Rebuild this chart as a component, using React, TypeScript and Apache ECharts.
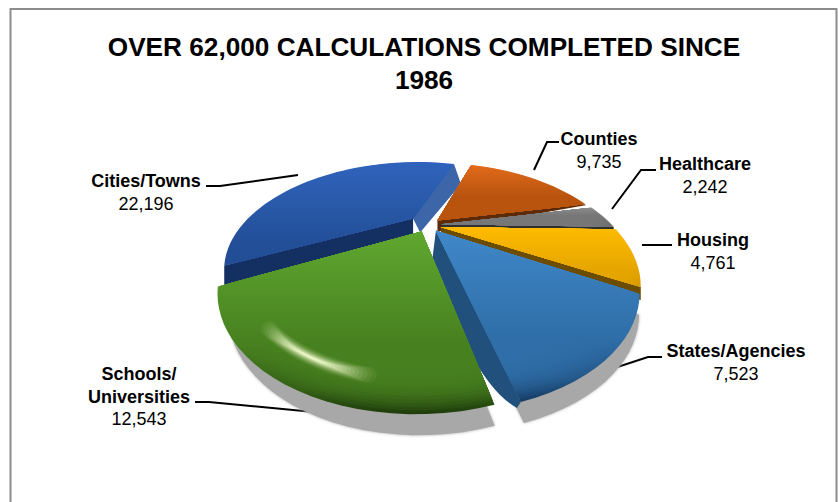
import React, { useEffect, useRef } from "react";
import * as echarts from "echarts";

// Calculations by client type, clockwise around the pie
const categories = ["Cities/Towns", "Counties", "Healthcare", "Housing", "States/Agencies", "Schools/\nUniversities"];
const calculations = [22196, 9735, 2242, 4761, 7523, 12543];
const chartTitle = "OVER 62,000 CALCULATIONS COMPLETED SINCE\n1986";

// Perspective of the pie plane
const CX = 427.5;
const CY = 225;
const RX = 171;
const KY = 88;
const DEPTH = 2.14;
const START_ANGLE = 207;
const BEVEL = 0.15;
const BEVEL_STEPS = 14;
const sliceOffsets = [0.115, 0.08, 0.08, 0.08, 0.08, 0.08];

const total = calculations.reduce((a, b) => a + b, 0);
const rad = (d: number) => (d * Math.PI) / 180;

function project(x: number, y: number): [number, number] {
  const s = DEPTH / (DEPTH + y);
  return [CX + x * RX * s, CY - y * KY * s];
}

function sliceAngles(index: number) {
  let a = START_ANGLE;
  for (let i = 0; i < index; i++) a -= (calculations[i] / total) * 360;
  return { a0: a, a1: a - (calculations[index] / total) * 360 };
}

function planePoint(index: number, angle: number, r: number) {
  const { a0, a1 } = sliceAngles(index);
  const mid = rad((a0 + a1) / 2);
  const e = sliceOffsets[index];
  return project(e * Math.cos(mid) + r * Math.cos(rad(angle)), e * Math.sin(mid) + r * Math.sin(rad(angle)));
}

type Warp = { pivot: number; fx: number; dx: number; dy: number };
const noWarp: Warp = { pivot: 0, fx: 1, dx: 0, dy: 0 };

function facePath(index: number, r: number, warp: Warp = noWarp) {
  const { a0, a1 } = sliceAngles(index);
  const move = (p: number[]) => `${warp.pivot + (p[0] - warp.pivot) * warp.fx + warp.dx} ${p[1] + warp.dy}`;
  const parts = [`M${move(planePoint(index, a0, 0))}`];
  const steps = Math.max(6, Math.ceil((a0 - a1) / 3));
  for (let i = 0; i <= steps; i++) {
    parts.push(`L${move(planePoint(index, a0 + ((a1 - a0) * i) / steps, r))}`);
  }
  return parts.join("") + "Z";
}

function hex(c: string) {
  return [1, 3, 5].map((i) => parseInt(c.slice(i, i + 2), 16));
}
function mix(a: string, b: string, t: number) {
  const x = hex(a);
  const y = hex(b);
  return `rgb(${x.map((v, i) => Math.round(v + (y[i] - v) * t)).join(",")})`;
}

type Wall = { edge: "start" | "end"; color: string; apex: number; mid: number; rim: number; dx: number };
type Look = { top: string; low: string; rim: string; y0: number; y1: number; walls: Wall[]; shadow?: Warp };

const looks: Look[] = [
  {
    top: "#2f63bb", low: "#234f98", rim: "#1d4585", y0: 165, y1: 290,
    walls: [
      { edge: "end", color: "#3d66a9", apex: 14, mid: 17, rim: 20, dx: 7 },
      { edge: "start", color: "#142f62", apex: 16, mid: 20, rim: 24, dx: 0 },
    ],
  },
  {
    top: "#e26a1a", low: "#b9540f", rim: "#a84a0c", y0: 165, y1: 215,
    walls: [{ edge: "end", color: "#5c2a06", apex: 11, mid: 6, rim: 1, dx: 0 }],
  },
  {
    top: "#a6a6a6", low: "#777777", rim: "#6a6a6a", y0: 198, y1: 226,
    walls: [{ edge: "end", color: "#2f2f2f", apex: 3, mid: 3, rim: 3, dx: 0 }],
  },
  {
    top: "#ffbc00", low: "#e6a600", rim: "#c98c00", y0: 226, y1: 295,
    walls: [{ edge: "end", color: "#6b4c00", apex: 5, mid: 9, rim: 13, dx: 0 }],
  },
  {
    top: "#3f87c8", low: "#2f6ea8", rim: "#173f68", y0: 235, y1: 400,
    walls: [{ edge: "end", color: "#21507c", apex: 32, mid: 44, rim: 6, dx: -4 }],
    shadow: { pivot: 520, fx: 0.97, dx: 3, dy: 21 },
  },
  {
    top: "#5fa62f", low: "#47801f", rim: "#1f3e0c", y0: 235, y1: 413,
    walls: [],
    shadow: { pivot: 497, fx: 0.96, dx: 0, dy: 21 },
  },
];

function gradient(look: Look, depth: number) {
  return new echarts.graphic.LinearGradient(
    0, look.y0, 0, look.y1,
    [
      { offset: 0, color: look.top },
      { offset: 0.62, color: look.low },
      { offset: 0.86, color: mix(look.low, look.rim, depth * 0.45) },
      { offset: 1, color: mix(look.low, look.rim, depth) },
    ],
    true as any
  );
}

function wallElement(index: number, wall: Wall) {
  const { a0, a1 } = sliceAngles(index);
  const angle = wall.edge === "start" ? a0 : a1;
  const apex = planePoint(index, angle, 0);
  const rim = planePoint(index, angle, 1);
  const ctrlOffset = 2 * wall.mid - (wall.apex + wall.rim) / 2;
  const d =
    `M${apex[0]} ${apex[1]}L${rim[0]} ${rim[1]}` +
    `L${rim[0] + wall.dx} ${rim[1] + wall.rim}` +
    `Q${(apex[0] + rim[0]) / 2 + wall.dx} ${(apex[1] + rim[1]) / 2 + ctrlOffset} ${apex[0] + wall.dx} ${apex[1] + wall.apex}Z`;
  return { type: "path", shape: { pathData: d }, style: { fill: wall.color } };
}

// Soft specular streak that follows the rim of a slice
function glintElements(index: number) {
  const { a0, a1 } = sliceAngles(index);
  const centre = a0 + (a1 - a0) * 0.5;
  const out: any[] = [];
  const layers = 16;
  for (let j = 0; j < layers; j++) {
    const t = j / layers;
    const span = 13 * (1 - t) + 1.5;
    const parts: string[] = [];
    for (let k = 0; k <= 12; k++) {
      const p = planePoint(index, centre + span * (k / 6 - 1), 0.89);
      parts.push(`${k ? "L" : "M"}${p[0]} ${p[1]}`);
    }
    out.push({
      type: "path",
      shape: { pathData: parts.join("") },
      style: {
        fill: "none",
        stroke: "#f6ffd2",
        lineWidth: 15 * (1 - t) * (1 - t) + 1.5,
        lineCap: "round",
        opacity: 0.05 + 0.22 * t,
      },
    });
  }
  return out;
}

function renderSlice(params: any) {
  const index = params.dataIndex;
  const look = looks[index];
  const children: any[] = look.walls.map((w) => wallElement(index, w));
  for (let i = 0; i <= BEVEL_STEPS; i++) {
    const t = i / BEVEL_STEPS;
    children.push({
      type: "path",
      shape: { pathData: facePath(index, 1 - BEVEL * t) },
      style: { fill: gradient(look, (1 - t) * (1 - t)) },
    });
  }
  if (index === 5) children.push(...glintElements(index));
  return { type: "group", children };
}

// Only the two front slices cast a shadow that shows past the pie
function renderShadow(params: any) {
  const warp = looks[params.dataIndex].shadow;
  if (!warp) return null;
  return {
    type: "path",
    shape: { pathData: facePath(params.dataIndex, 1, warp) },
    style: { fill: "#a8a8a8", shadowBlur: 3, shadowColor: "#a8a8a8" },
  };
}

const leaderLines = [
  [[206, 186], [220, 186], [298, 175]],
  [[559, 142], [547, 142], [534, 170]],
  [[656, 170], [641, 170], [612, 209]],
  [[672, 245], [642, 245]],
  [[662, 357], [648, 357], [596, 374]],
  [[195, 402], [209, 402], [314, 412]],
];
const labelCentres = [
  [146, 181],
  [599, 139],
  [705, 164],
  [713, 240],
  [736, 351],
  [139, 374],
];

const FONT = '"Liberation Sans", Arial, sans-serif';

function labelGraphics() {
  const out: any[] = [];
  categories.forEach((name, i) => {
    const [x, y] = labelCentres[i];
    const lines = name.split("\n");
    lines.forEach((line, j) => {
      out.push({
        type: "text", x, y: y + j * 23,
        style: { text: line, fill: "#000", font: `bold 18px ${FONT}`, align: "center", verticalAlign: "middle" },
      });
    });
    out.push({
      type: "text", x, y: y + lines.length * 22.5,
      style: { text: calculations[i].toLocaleString("en-US"), fill: "#000", font: `18px ${FONT}`, align: "center", verticalAlign: "middle" },
    });
    out.push({
      type: "polyline",
      shape: { points: leaderLines[i] },
      style: { stroke: "#000", lineWidth: 2, fill: "none" },
    });
  });
  return out;
}

export default function App() {
  const ref = useRef<HTMLDivElement>(null);
  useEffect(() => {
    const chart = echarts.init(ref.current!, undefined, { renderer: "svg" });
    const rows = calculations.map((v, i) => ({ name: categories[i], value: v }));
    chart.setOption({
      animation: false,
      backgroundColor: "#ffffff",
      title: {
        text: chartTitle,
        left: 419,
        top: 25,
        textAlign: "center",
        textStyle: { fontFamily: FONT, fontSize: 26.2, fontWeight: "bold", color: "#000", lineHeight: 33 },
      },
      graphic: [
        {
          type: "rect",
          shape: { x: 10.5, y: 9, width: 826, height: 520 },
          style: { fill: "none", stroke: "#8c8c8c", lineWidth: 2 },
          z: 0,
        },
        ...labelGraphics(),
      ],
      series: [
        { type: "custom", coordinateSystem: "none", renderItem: renderShadow, data: rows, z: 1, silent: true },
        { type: "custom", coordinateSystem: "none", renderItem: renderSlice, data: rows, z: 2, silent: true },
      ],
    });
    return () => chart.dispose();
  }, []);
  return <div ref={ref} style={{ position: "fixed", left: 0, top: 0, width: 839, height: 502 }} />;
}
